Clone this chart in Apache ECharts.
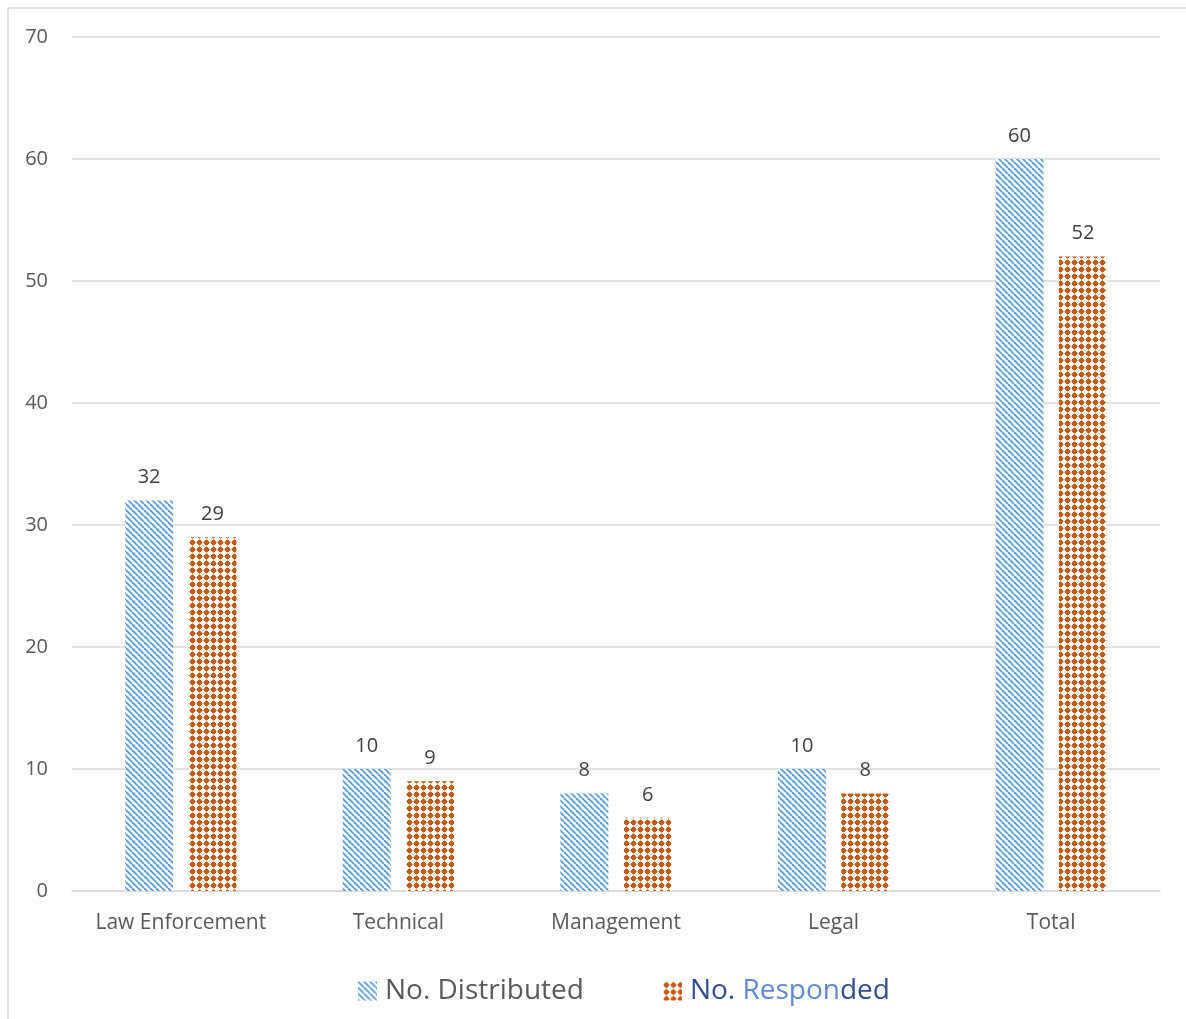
<!DOCTYPE html>
<html>
<head>
<meta charset="utf-8">
<script src="https://cdn.jsdelivr.net/npm/echarts@6/dist/echarts.min.js"></script>
<style>
html,body{margin:0;padding:0;background:#fff;}
#chart{width:1186px;height:1019px;}
</style>
</head>
<body>
<div id="chart"></div>
<script>
const categories = ['Law Enforcement', 'Technical', 'Management', 'Legal', 'Total'];
const distributed = [32, 10, 8, 10, 60];
const responded = [29, 9, 6, 8, 52];
const seriesNames = ['No. Distributed', 'No. Responded'];
const yTicks = { min: 0, max: 70, interval: 10 };

function stripePattern() {
  const c = document.createElement('canvas');
  c.width = 6; c.height = 6;
  const g = c.getContext('2d');
  g.fillStyle = '#ffffff'; g.fillRect(0, 0, 6, 6);
  g.strokeStyle = '#5B9BD5'; g.lineWidth = 1.8;
  for (const o of [-6, 0, 6]) {
    g.beginPath(); g.moveTo(o, 0); g.lineTo(o + 6, 6); g.stroke();
  }
  return c;
}
function dotPattern() {
  const c = document.createElement('canvas');
  c.width = 7; c.height = 7;
  const g = c.getContext('2d');
  g.fillStyle = '#ffffff'; g.fillRect(0, 0, 7, 7);
  g.fillStyle = '#C55A11';
  g.fillRect(2, 1, 3, 5);
  g.fillRect(1, 2, 5, 3);
  g.fillRect(3, 0.5, 1, 6);
  g.fillRect(0.5, 3, 6, 1);
  return c;
}

const font = '"Open Sans", "Noto Sans", sans-serif';
const chart = echarts.init(document.getElementById('chart'));
chart.setOption({
  backgroundColor: '#ffffff',
  animation: false,
  textStyle: { fontFamily: font },
  graphic: [
    { type: 'line', shape: { x1: 8, y1: 8, x2: 1186, y2: 8 }, style: { stroke: '#d9d9d9', lineWidth: 1.5 } },
    { type: 'line', shape: { x1: 8, y1: 8, x2: 8, y2: 1019 }, style: { stroke: '#d9d9d9', lineWidth: 1.5 } }
  ],
  grid: { left: 72, right: 26, top: 37, bottom: 128, containLabel: false },
  legend: {
    bottom: 9,
    left: 353,
    itemWidth: 19,
    itemHeight: 19,
    itemGap: 79,
    icon: 'rect',
    textStyle: {
      fontFamily: font,
      fontSize: 28,
      color: '#595959',
      padding: [0, 0, 0, 3],
      rich: {
        g: { fontSize: 28, color: '#595959', fontFamily: font },
        d: { fontSize: 28, color: '#2F4F8F', fontFamily: font },
        l: { fontSize: 28, color: '#5F8AD2', fontFamily: font }
      }
    },
    formatter: function (name) {
      if (name === seriesNames[1]) return '{d|No.} {l|Respon}{d|ded}';
      return '{g|' + name + '}';
    }
  },
  xAxis: {
    type: 'category',
    data: categories,
    axisLine: { show: true, lineStyle: { color: '#d9d9d9', width: 1.5 } },
    axisTick: { show: false },
    axisLabel: { color: '#595959', fontSize: 21, margin: 22, interval: 0, fontFamily: font }
  },
  yAxis: {
    type: 'value',
    min: yTicks.min, max: yTicks.max, interval: yTicks.interval,
    axisLine: { show: false },
    axisTick: { show: false },
    splitLine: { lineStyle: { color: '#d9d9d9', width: 1.5 } },
    axisLabel: { color: '#595959', fontSize: 20, margin: 24, fontFamily: font }
  },
  series: [
    {
      name: seriesNames[0], type: 'bar', data: distributed,
      barWidth: 48, barGap: '32%',
      itemStyle: { color: { image: stripePattern(), repeat: 'repeat' } },
      label: { show: true, position: 'top', distance: 13, color: '#404040', fontSize: 20, fontFamily: font }
    },
    {
      name: seriesNames[1], type: 'bar', data: responded,
      barWidth: 48, barGap: '32%',
      itemStyle: { color: { image: dotPattern(), repeat: 'repeat' } },
      label: { show: true, position: 'top', distance: 13, color: '#404040', fontSize: 20, fontFamily: font }
    }
  ]
});
</script>
</body>
</html>
